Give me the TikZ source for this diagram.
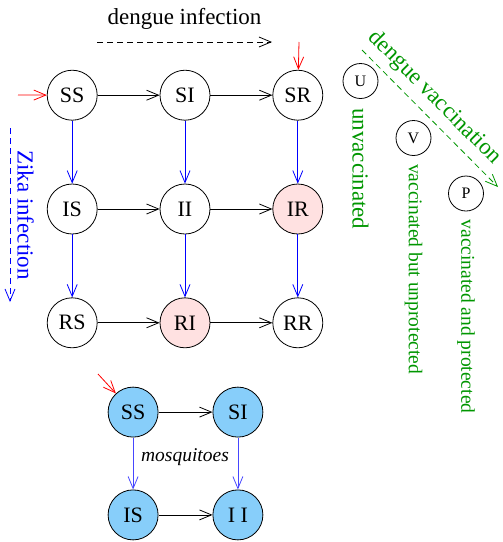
\documentclass[tikz,border=0pt]{standalone}
\usepackage{fontspec}
\setmainfont{Liberation Serif}
\usetikzlibrary{graphs,arrows.meta,positioning}
\definecolor{hostpink}{RGB}{255,225,225}
\definecolor{mozblue}{RGB}{135,206,250}
\definecolor{vacgreen}{RGB}{0,150,0}
\definecolor{mozarrow}{RGB}{70,70,255}
\newcommand{\mknode}[3][]{\node[mystate,#1] (#2) {#3} ;}
\tikzset{
    mystate/.style={
        inner sep=0,
        draw,
        circle,
        line width=0.8pt,
        minimum size=50pt,
        font=\fontsize{22}{26}\selectfont,
    },
    pink state/.style={fill=hostpink},
    mozzie state/.style={fill=mozblue},
    vac state/.style={
        inner sep=0,
        draw,
        circle,
        line width=0.8pt,
        minimum size=35pt,
        font=\fontsize{16}{18}\selectfont,
    },
    host graph/.style={
        row sep=63pt,
        column sep=62pt,
    },
    mozzie graph/.style={
        row sep=52pt,
        column sep=54pt,
    },
    flow/.style={line width=0.8pt, black},
    zika flow/.style={blue},
    mozzie flow/.style={mozarrow},
    inflow/.style={->, line width=0.8pt, red},
    hint/.style={->, line width=0.8pt, dash pattern=on 6pt off 4pt},
    big text/.style={font=\fontsize{23}{27}\selectfont},
    small text/.style={font=\fontsize{19.5}{23}\selectfont},
    vac label/.style={small text, vacgreen, rotate=-90, inner sep=1pt},
}
\begin{document}
\begin{tikzpicture}[x=1pt, y=-1pt, >={Straight Barb[length=12pt,width=10pt]}]
    \useasboundingbox (0,0) rectangle (503,542);

    % hosts
    \matrix[host graph] (hosts) at (185,209) {
        \mknode{SS}{SS} & \mknode{SI}{SI}               & \mknode{SR}{SR}               \\
        \mknode{IS}{IS} & \mknode{II}{II}               & \mknode[pink state]{IR}{IR}   \\
        \mknode{RS}{RS} & \mknode[pink state]{RI}{RI}   & \mknode{RR}{RR}               \\
    } ;

    % mosquitoes
    \matrix[mozzie graph] (mosquitoes) at (185.5,463.5) {
        \mknode[mozzie state]{mSS}{SS} & \mknode[mozzie state]{mSI}{SI}  \\
        \mknode[mozzie state]{mIS}{IS} & \mknode[mozzie state]{mII}{I I} \\
    } ;
    \node[small text, font=\fontsize{19.5}{23}\selectfont\itshape] (mozname) at (185,457) {mosquitoes};

    \graph[use existing nodes, edges={flow}]{
        SS -> SI -> SR ;
        IS -> II -> IR ;
        RS -> RI -> RR ;
        SS ->[zika flow] IS ->[zika flow] RS ;
        SI ->[zika flow] II ->[zika flow] RI ;
        SR ->[zika flow] IR ->[zika flow] RR ;
        mSS -> mSI ;
        mIS -> mII ;
        mSS ->[mozzie flow] mIS ;
        mSI ->[mozzie flow] mII ;
    } ;

    % births
    \coordinate (inSS) at (18,95);
    \coordinate (inSR) at (299,42);
    \coordinate (inM) at (98,374);
    \draw[inflow] (inSS) -- (SS);
    \draw[inflow] (inSR) -- (SR);
    \draw[inflow] (inM) -- (mSS);

    % directions
    \coordinate (dgA) at (97,42);
    \coordinate (dgB) at (272,42);
    \coordinate (zkA) at (10,128);
    \coordinate (zkB) at (10,302);
    \coordinate (vcA) at (362,50);
    \coordinate (vcB) at (498,187);
    \draw[hint] (dgA) -- node[big text, above=10pt, inner sep=2pt] (dglabel) {dengue infection} (dgB);
    \draw[hint, blue] (zkA) -- node[big text, sloped, above=5pt, inner sep=2pt] (zklabel) {Zika infection} (zkB);
    \draw[hint, vacgreen] (vcA) -- node[big text, sloped, pos=0.44, above=6pt, inner sep=1pt] (vclabel) {dengue vaccination} (vcB);

    % vaccination classes
    \node[vac state] (U) at (360.5,81) {U};
    \node[vac state] (V) at (413.5,138) {V};
    \node[vac state] (P) at (466,193.5) {P};
    \node[vac label, big text, below=8pt of U, anchor=west] (unvac) {unvaccinated};
    \node[vac label, below=7pt of V, anchor=west] (vacun) {vaccinated but unprotected};
    \node[vac label, below=7pt of P, anchor=west] (vacpro) {vaccinated and protected};
\end{tikzpicture}
\end{document}
